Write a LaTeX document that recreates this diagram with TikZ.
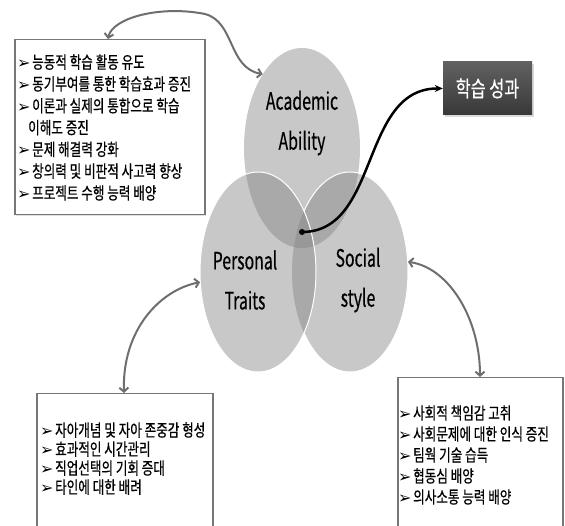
\documentclass[tikz,border=0pt]{standalone}
\usepackage{fontspec}
\setmainfont{Noto Sans CJK KR}[FakeStretch=0.74,FakeBold=0.5]
\newfontfamily\labfont{Noto Sans CJK KR}[FakeStretch=0.66,FakeBold=0.4]
\newfontfamily\symfont{DejaVu Sans}
\usetikzlibrary{shapes.geometric,arrows.meta,shadows}
\definecolor{vbase}{HTML}{C8C8C8}
\definecolor{vpair}{HTML}{A9A9A9}
\definecolor{vtri}{HTML}{989898}
\definecolor{conngray}{HTML}{6E6E6E}
\definecolor{boxgray}{HTML}{777777}
\newcommand{\bul}{\makebox[15pt][l]{\symfont\fontsize{16}{16}\selectfont ➢}}
\tikzset{
  listbox/.style={draw=boxgray, line width=1.5pt, fill=white, inner sep=0pt},
  listtext/.style={anchor=west, align=left, inner sep=0pt},
  venn/.style={ellipse, minimum width=116pt, minimum height=200pt, inner sep=0pt},
  vlabel/.style={align=center, inner sep=0pt, font=\labfont\fontsize{24}{40}\selectfont},
  conn/.style={draw=conngray, line width=2pt, {Straight Barb[length=4pt,width=9pt]}-{Straight Barb[length=4pt,width=9pt]}},
}
\begin{document}
\begin{tikzpicture}[x=1pt,y=-1pt]
\useasboundingbox (0,0) rectangle (565,526);
\clip (0,0) rectangle (565,526);
% Venn fills
\fill[vbase] (302,148) ellipse [x radius=58, y radius=100];
\fill[vbase] (350,272) ellipse [x radius=58, y radius=100];
\begin{scope}
  \clip (302,148) ellipse [x radius=58, y radius=100];
  \fill[vpair] (350,272) ellipse [x radius=58, y radius=100];
\end{scope}
\draw[white, line width=1pt] (350,272) ellipse [x radius=58, y radius=100];
\begin{scope}
  \clip (258,272) ellipse [x radius=58, y radius=100];
  \fill[vbase] (258,272) ellipse [x radius=58, y radius=100];
  \fill[vpair] (302,148) ellipse [x radius=58, y radius=100];
  \fill[vpair] (350,272) ellipse [x radius=58, y radius=100];
  \begin{scope}
    \clip (302,148) ellipse [x radius=58, y radius=100];
    \fill[vtri] (350,272) ellipse [x radius=58, y radius=100];
  \end{scope}
\end{scope}
\draw[white, line width=1pt] (258,272) ellipse [x radius=58, y radius=100];
% anchor nodes for the circles
\node[venn] (acad) at (302,148) {};
\node[venn] (pers) at (258,272) {};
\node[venn] (soc) at (350,272) {};
\node[vlabel] (acadlab) at (302,123) {Academic\\Ability};
\node[vlabel] (perslab) at (245,280) {Personal\\Traits};
\node[vlabel] (soclab) at (358,280) {Social\\style};
% boxes
\node[listbox, minimum width=190pt, minimum height=175pt, anchor=north west, drop shadow={opacity=0.25, shadow xshift=1.5pt, shadow yshift=-1.5pt}] (tlbox) at (14,39) {};
\node[listbox, minimum width=176pt, minimum height=150pt, anchor=north west] (blbox) at (36,393) {};
\node[listbox, minimum width=165pt, minimum height=165pt, anchor=north west] (brbox) at (397,377) {};
\node[listtext, font=\fontsize{17}{21.8}\selectfont] (tltext) at (17,127.5) {%
\bul 능동적 학습 활동 유도\\
\bul 동기부여를 통한 학습효과 증진\\
\bul 이론과 실제의 통합으로 학습\\
\hspace*{11pt}이해도 증진\\
\bul 문제 해결력 강화\\
\bul 창의력 및 비판적 사고력 향상\\
\bul 프로젝트 수행 능력 배양};
\node[listtext, font=\fontsize{17}{19}\selectfont] (bltext) at (40,458.5) {%
\bul 자아개념 및 자아 존중감 형성\\
\bul 효과적인 시간관리\\
\bul 직업선택의 기회 증대\\
\bul 타인에 대한 배려};
\node[listtext, font=\fontsize{17}{21}\selectfont] (brtext) at (398,455) {%
\bul 사회적 책임감 고취\\
\bul 사회문제에 대한 인식 증진\\
\bul 팀웍 기술 습득\\
\bul 협동심 배양\\
\bul 의사소통 능력 배양};
% result box
\node[minimum width=89pt, minimum height=53pt, top color=black!62, bottom color=black!78, text=white,
      font=\fontsize{22}{22}\selectfont, drop shadow={opacity=0.3, shadow xshift=2pt, shadow yshift=-2pt}] (result) at (487.5,88.5) {학습 성과};
% connectors
\coordinate (c1a) at ([xshift=94pt]tlbox.north west);
\coordinate (c2b) at ([xshift=88pt]blbox.north west);
\coordinate (c3b) at ([xshift=83pt]brbox.north west);
\draw[conn] (c1a) .. controls (112,18) and (160,5) .. (205,14) .. controls (235,22) and (228,68) .. (acad.118);
\draw[conn] (pers.190) .. controls (160,290) and (122,330) .. (c2b);
\draw[conn] (soc.10) .. controls (450,268) and (480,320) .. (c3b);
\node[circle, fill=black, inner sep=0pt, minimum size=6pt] (dot) at (302,232) {};
\draw[line width=2.5pt, -{Stealth[length=8pt,width=7pt]}] (dot.center) .. controls (380,232) and (360,88) .. (result.west);
\end{tikzpicture}
\end{document}
